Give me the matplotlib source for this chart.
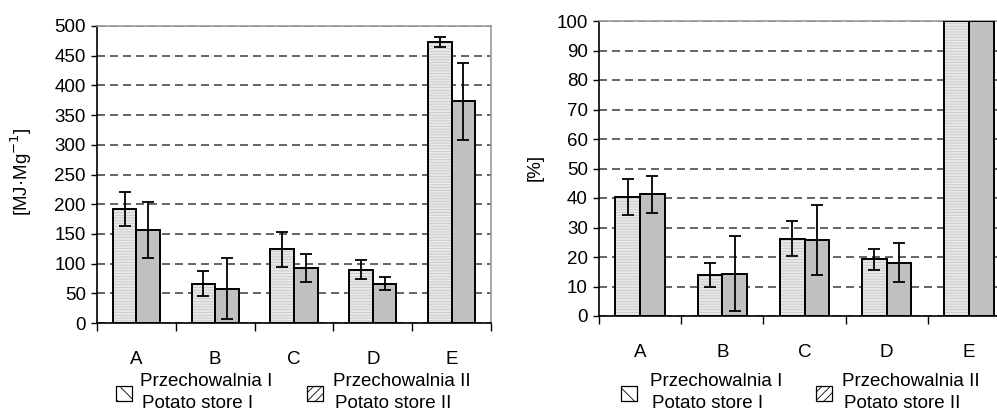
import matplotlib
matplotlib.use("Agg")
import matplotlib.pyplot as plt
from matplotlib.patches import Rectangle
import numpy as np

plt.rcParams['font.family'] = ['Liberation Sans', 'DejaVu Sans']
plt.rcParams['hatch.linewidth'] = 0.6

categories = ['A', 'B', 'C', 'D', 'E']

# energy consumption [MJ/Mg]
energy_I = [192, 66, 124, 90, 473]
energy_I_err = [29, 21, 29, 16, 8]
energy_II = [156, 58, 93, 66, 373]
energy_II_err = [47, 52, 24, 11, 65]

# share [%]
share_I = [40.3, 13.9, 26.2, 19.2, 100]
share_I_err = [6.1, 4.2, 6.0, 3.5, 0]
share_II = [41.3, 14.4, 25.8, 18.1, 100]
share_II_err = [6.3, 12.7, 11.8, 6.7, 0]

legend_labels = ['Przechowalnia I\nPotato store I', 'Przechowalnia II\nPotato store II']

W, H = 997, 412
FS = 13.5


def px(x, y):
    return x / W, 1 - y / H


def axes_px(fig, x0, y0, x1, y1):
    return fig.add_axes([x0 / W, 1 - y1 / H, (x1 - x0) / W, (y1 - y0) / H])


def draw_panel(ax, v1, e1, v2, e2, ymax, step):
    x = np.arange(len(categories))
    w = 0.3
    # light bars with faint horizontal texture, outline drawn separately
    ax.bar(x - w / 2, v1, w, color='#e8e8e8', edgecolor='#c8c8c8', linewidth=0,
           hatch='------', zorder=3)
    ax.bar(x - w / 2, v1, w, color='none', edgecolor='black', linewidth=1.4, zorder=4)
    ax.bar(x + w / 2, v2, w, color='#c0c0c0', edgecolor='black', linewidth=1.4, zorder=3)
    for xs, v, e in ((x - w / 2, v1, e1), (x + w / 2, v2, e2)):
        xs = [a for a, b in zip(xs, e) if b > 0]
        vv = [a for a, b in zip(v, e) if b > 0]
        ee = [b for b in e if b > 0]
        ax.errorbar(xs, vv, yerr=ee, fmt='none', ecolor='black', elinewidth=1.3,
                    capsize=4.5, capthick=1.3, zorder=5)
    ax.set_xlim(-0.5, len(categories) - 0.5)
    ax.set_ylim(0, ymax)
    ax.set_yticks(np.arange(0, ymax + 1, step))
    ax.tick_params(axis='y', direction='out', length=4, width=1, labelsize=FS, pad=4)
    ax.set_xticks(np.arange(-0.5, len(categories), 1))
    ax.set_xticklabels([])
    ax.set_xticks(x, minor=True)
    ax.set_xticklabels(categories, minor=True)
    ax.tick_params(axis='x', which='major', direction='out', length=6, width=1)
    ax.tick_params(axis='x', which='minor', length=0, labelsize=FS, pad=20)
    ax.yaxis.grid(True, color='#4a4a4a', linewidth=1.2, linestyle=(0, (4.8, 3)), zorder=1)
    ax.set_axisbelow(True)
    for s in ('top', 'right'):
        ax.spines[s].set_color('#999999')
        ax.spines[s].set_linewidth(1.2)
    for s in ('left', 'bottom'):
        ax.spines[s].set_color('black')
        ax.spines[s].set_linewidth(1.2)


def draw_legend(fig, sw1, sw2, ytop, line1):
    hatches = ['\\\\', '////']
    for (sx, tx), hatch, lab in zip((sw1, sw2), hatches, legend_labels):
        x0, y0 = px(sx, ytop + 15)
        fig.add_artist(Rectangle((x0, y0), 16 / W, 15 / H, transform=fig.transFigure,
                                 facecolor='white', edgecolor='black', linewidth=0.9,
                                 hatch=hatch))
        l1, l2 = lab.split('\n')
        fig.text(*px(tx, line1), l1, fontsize=FS, va='center', ha='left')
        fig.text(*px(tx + 2, line1 + 21), l2, fontsize=FS, va='center', ha='left')


fig = plt.figure(figsize=(W / 100, H / 100), dpi=100)

ax1 = axes_px(fig, 97, 26, 491, 323)
draw_panel(ax1, energy_I, energy_I_err, energy_II, energy_II_err, 500, 50)
fig.text(*px(21, 172), '[MJ·Mg$^{-1}$]', rotation=90, fontsize=FS, ha='center', va='center')

ax2 = axes_px(fig, 599, 21, 1010, 316)
draw_panel(ax2, share_I, share_I_err, share_II, share_II_err, 100, 10)
fig.text(*px(535, 167), '[%]', rotation=90, fontsize=FS, ha='center', va='center')

draw_legend(fig, (116, 140), (307, 333), 386, 382)
draw_legend(fig, (621, 650), (816, 842), 386, 382)

fig.savefig('out.png', dpi=100)
